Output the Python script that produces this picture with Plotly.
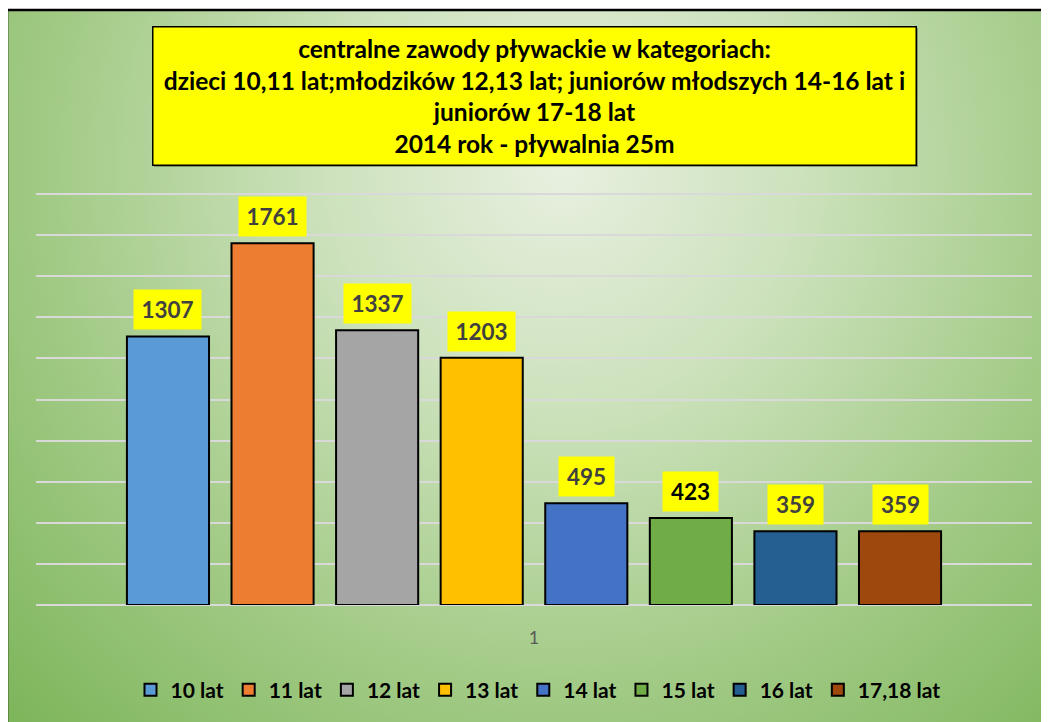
import base64
import plotly.graph_objects as go

categories = ["1"]
series_names = ["10 lat", "11 lat", "12 lat", "13 lat", "14 lat", "15 lat", "16 lat", "17,18 lat"]
series_values = [1307, 1761, 1337, 1203, 495, 423, 359, 359]
series_colors = ["#5B9BD5", "#ED7D31", "#A5A5A5", "#FFC000", "#4472C4", "#70AD47", "#255E91", "#9E480E"]
label_colors = ["#404040", "#404040", "#404040", "#404040", "#404040", "#000000", "#404040", "#404040"]
title_lines = [
    "centralne zawody pływackie w kategoriach:",
    "dzieci 10,11 lat;młodzików 12,13 lat; juniorów młodszych 14-16 lat i",
    "juniorów 17-18 lat",
    "2014 rok - pływalnia 25m",
]

W, H = 1049, 722
OFF = 8  # page body margin
# plot area in screen pixels: x 36..1032, y 193..605
ML = 36 - OFF
MT = 193 - OFF
MR = W - (1032 - OFF)
MB = H - (605 - OFF)
PW, PH = W - ML - MR, H - MT - MB
FONT = "Lato, 'Open Sans', sans-serif"

bargap = 0.16
bargroupgap = 0.215


def sx(px):
    """screen x pixel -> paper x"""
    return (px - OFF - ML) / PW


def sy(py):
    """screen y pixel -> paper y"""
    return (H - MB - (py - OFF)) / PH


fig = go.Figure()
for name, val, col in zip(series_names, series_values, series_colors):
    fig.add_trace(go.Bar(
        x=categories, y=[val], name=name,
        marker=dict(color=col, line=dict(color="#000000", width=2)),
        hoverinfo="name+y",
    ))

# background radial gradient as svg image
svg = f'''<svg xmlns="http://www.w3.org/2000/svg" width="{W}" height="{H}" viewBox="0 0 {W} {H}">
<defs><radialGradient id="g" gradientUnits="userSpaceOnUse" cx="540" cy="150" r="760">
<stop offset="0" stop-color="#e8f0e0"/>
<stop offset="0.3" stop-color="#cde2bd"/>
<stop offset="0.65" stop-color="#a3cb87"/>
<stop offset="1" stop-color="#7db55a"/>
</radialGradient></defs>
<rect x="0" y="0" width="{W}" height="{H}" fill="url(#g)"/>
</svg>'''
src = "data:image/svg+xml;base64," + base64.b64encode(svg.encode()).decode()

fig.add_layout_image(dict(
    source=src, xref="paper", yref="paper",
    x=sx(7), y=sy(10),
    sizex=(W + 30) / PW, sizey=(H + 30) / PH,
    xanchor="left", yanchor="top", sizing="stretch", layer="below",
))

# outer border (left/top visible)
fig.add_shape(type="rect", xref="paper", yref="paper",
              x0=sx(7), y0=sy(H + 40), x1=sx(W + 40), y1=sy(10),
              line=dict(color="#000000", width=2.5), layer="above")

# title box shadow + title
fig.add_shape(type="rect", xref="paper", yref="paper",
              x0=sx(154), y0=sy(167), x1=sx(918), y1=sy(28),
              line=dict(width=0), fillcolor="rgba(0,0,0,0.3)", layer="below")
fig.add_annotation(
    xref="paper", yref="paper", x=sx(534), y=sy(95.5),
    text="<br>".join(title_lines), showarrow=False,
    font=dict(family=FONT, size=24.5, color="#000000", weight="bold"),
    bgcolor="#FFFF00", bordercolor="#000000", borderwidth=1.5,
    width=760, height=135, align="center", xanchor="center", yanchor="middle",
)

# data labels
n = len(series_values)
slot = (1 - bargap) / n
for i, (val, lc) in enumerate(zip(series_values, label_colors)):
    xc = -(1 - bargap) / 2 + slot * (i + 0.5)
    txt = str(val)
    fig.add_annotation(
        x=xc, y=val, xref="x", yref="y", text=txt, showarrow=False,
        yanchor="bottom", yshift=6,
        font=dict(family=FONT, size=22.5, color=lc, weight="bold"),
        bgcolor="#FFFF00", width=12 * len(txt) + 17, height=37,
    )

fig.update_layout(
    width=W, height=H,
    margin=dict(l=ML, r=MR, t=MT, b=MB, pad=0),
    paper_bgcolor="#FFFFFF", plot_bgcolor="rgba(0,0,0,0)",
    barmode="group", bargap=bargap, bargroupgap=bargroupgap,
    showlegend=True,
    legend=dict(orientation="h", x=sx(538), xanchor="center", y=sy(690), yanchor="middle",
                font=dict(family=FONT, size=21, color="#000000", weight="bold"),
                bgcolor="rgba(0,0,0,0)", itemwidth=30, traceorder="normal"),
    xaxis=dict(type="category", showgrid=False, showline=False, zeroline=False,
               tickfont=dict(family=FONT, size=18, color="#595959"), ticks="", ticklen=0,
               fixedrange=True),
    yaxis=dict(range=[0, 2005], dtick=200, showgrid=True, gridcolor="#D9D9D9", gridwidth=2,
               showticklabels=False, zeroline=True, zerolinecolor="#D9D9D9", zerolinewidth=2,
               showline=False, ticks="", fixedrange=True),
    font=dict(family=FONT),
)
fig.update_xaxes(ticklabelstandoff=20)

fig.write_html("out.html")
